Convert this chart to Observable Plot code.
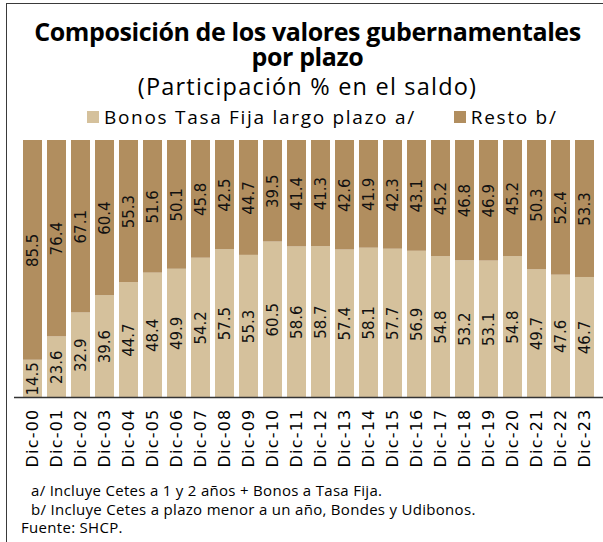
<!DOCTYPE html>
<html>
<head>
<meta charset="utf-8">
<script src="https://cdn.jsdelivr.net/npm/d3@7"></script>
<script src="https://cdn.jsdelivr.net/npm/@observablehq/plot@0.6"></script>
<style>
  html, body { margin: 0; padding: 0; background: #fff; }
  body { width: 603px; height: 542px; overflow: hidden; position: relative; font-family: "Open Sans", "DejaVu Sans", sans-serif; color: #000; }
  #frame { position: absolute; left: 6px; top: 3px; width: 600px; height: 545px; border-left: 1.5px solid #3a3a3a; border-top: 1.5px solid #3a3a3a; }
  .title { position: absolute; left: 0; width: 615px; text-align: center; font-weight: 700; font-size: 25px; line-height: 25px; letter-spacing: -0.4px; white-space: nowrap; }
  #subtitle { position: absolute; left: 0; top: 73px; width: 615px; text-align: center; font-size: 23.5px; line-height: 26px; letter-spacing: 1.2px; white-space: nowrap; }
  #legend { position: absolute; left: 87px; top: 104px; display: flex; font-size: 19px; line-height: 26px; letter-spacing: 1.7px; white-space: nowrap; }
  .item { display: flex; align-items: center; }
  .item + .item { margin-left: 38px; }
  .sw { width: 12px; height: 12px; margin-right: 5px; display: inline-block; }
  #chart { position: absolute; left: 0; top: 135px; }
  #chart [aria-label="x-axis tick label"] text { letter-spacing: 1.2px; }
  #notes { position: absolute; left: 0; top: 481px; font-size: 15px; line-height: 18.5px; letter-spacing: 0.3px; }
  #notes div { white-space: nowrap; }
</style>
</head>
<body>
<div id="frame"></div>
<div class="title" style="top:18.5px">Composición de los valores gubernamentales</div>
<div class="title" style="top:44px">por plazo</div>
<div id="subtitle">(Participación % en el saldo)</div>
<div id="legend"></div>
<div id="chart"></div>
<div id="notes">
  <div style="padding-left:31px">a/ Incluye Cetes a 1 y 2 años + Bonos a Tasa Fija.</div>
  <div style="padding-left:31px">b/ Incluye Cetes a plazo menor a un año, Bondes y Udibonos.</div>
  <div style="padding-left:21px">Fuente: SHCP.</div>
</div>
<script>
const periods = ["Dic-00","Dic-01","Dic-02","Dic-03","Dic-04","Dic-05","Dic-06","Dic-07","Dic-08","Dic-09","Dic-10","Dic-11","Dic-12","Dic-13","Dic-14","Dic-15","Dic-16","Dic-17","Dic-18","Dic-19","Dic-20","Dic-21","Dic-22","Dic-23"];
const bonosLargo = [14.5,23.6,32.9,39.6,44.7,48.4,49.9,54.2,57.5,55.3,60.5,58.6,58.7,57.4,58.1,57.7,56.9,54.8,53.2,53.1,54.8,49.7,47.6,46.7];
const resto = [85.5,76.4,67.1,60.4,55.3,51.6,50.1,45.8,42.5,44.7,39.5,41.4,41.3,42.6,41.9,42.3,43.1,45.2,46.8,46.9,45.2,50.3,52.4,53.3];
const seriesNames = ["Bonos Tasa Fija largo plazo a/", "Resto b/"];
const seriesColors = ["#d5c19c", "#b18e5f"];

const rows = [];
periods.forEach((p, i) => {
  rows.push({period: p, series: seriesNames[0], value: bonosLargo[i], base: 0});
  rows.push({period: p, series: seriesNames[1], value: resto[i], base: bonosLargo[i]});
});

// legend
const legend = document.getElementById("legend");
seriesNames.forEach((name, i) => {
  const it = document.createElement("div");
  it.className = "item";
  it.innerHTML = `<span class="sw" style="background:${seriesColors[i]}"></span><span>${name}</span>`;
  legend.appendChild(it);
});

const chart = Plot.plot({
  width: 603,
  height: 350,
  marginTop: 5,
  marginBottom: 88,
  marginLeft: 14,
  marginRight: 0,
  style: {fontFamily: "DejaVu Sans, sans-serif", fontSize: "16px", color: "#000", background: "transparent"},
  x: {domain: periods, padding: 0.22, label: null, tickSize: 0, tickRotate: -90, tickPadding: 11},
  y: {domain: [0, 100], axis: null},
  color: {domain: seriesNames, range: seriesColors},
  marks: [
    Plot.rect(rows, {x: "period", y1: "base", y2: d => d.base + d.value, fill: "series", inset: 0}),
    Plot.text(rows, {x: "period", y: d => d.base + d.value / 2, text: d => d.value.toFixed(1), rotate: -90, fontSize: 15, fill: "#111"}),
    Plot.ruleY([0], {stroke: "#333", strokeWidth: 1.5})
  ]
});
document.getElementById("chart").appendChild(chart);
</script>
</body>
</html>
